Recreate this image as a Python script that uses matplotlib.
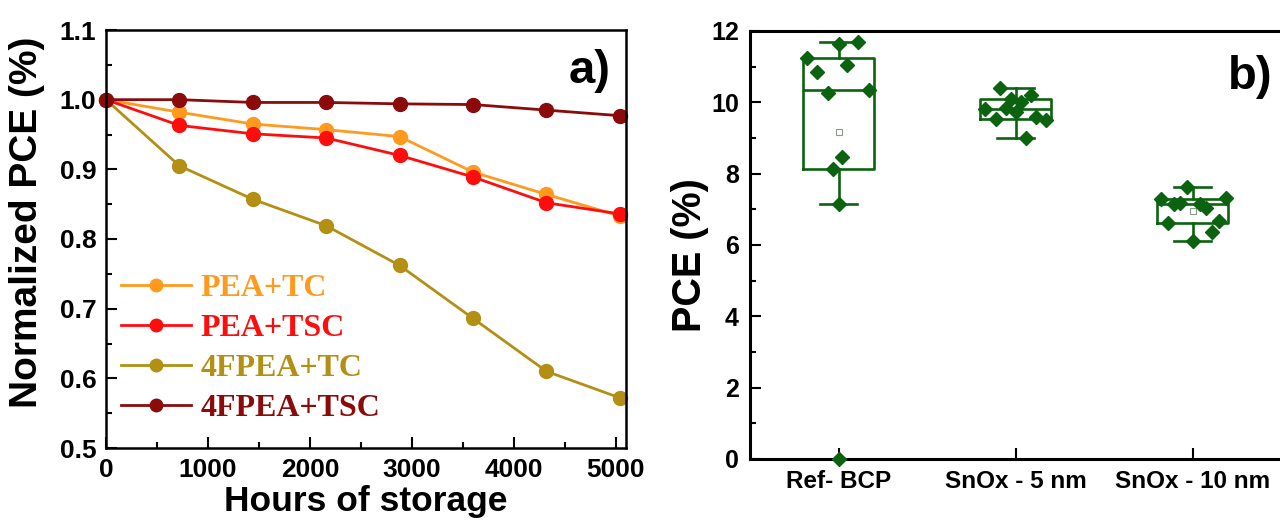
import numpy as np
import matplotlib
matplotlib.use("Agg")
import matplotlib.pyplot as plt
from matplotlib.ticker import MultipleLocator

plt.rcParams['font.family'] = ['Liberation Sans', 'DejaVu Sans']
plt.rcParams['font.weight'] = 'bold'

# ---- panel a) data ----
hours = [0, 720, 1440, 2160, 2880, 3600, 4320, 5040]
pea_tc = [1.0, 0.982, 0.965, 0.957, 0.947, 0.896, 0.864, 0.833]
pea_tsc = [1.0, 0.963, 0.951, 0.945, 0.920, 0.889, 0.852, 0.836]
fpea_tc = [1.0, 0.905, 0.857, 0.819, 0.762, 0.686, 0.610, 0.572]
fpea_tsc = [1.0, 1.0, 0.996, 0.996, 0.994, 0.993, 0.985, 0.977]
series_names = ['PEA+TC', 'PEA+TSC', '4FPEA+TC', '4FPEA+TSC']
series_colors = ['#ff9a1e', '#ff0d0d', '#b38f14', '#8b0b0b']

# ---- panel b) data ----
groups = ['Ref- BCP', 'SnOx - 5 nm', 'SnOx - 10 nm']
ref_bcp = [11.69, 11.63, 11.25, 10.84, 11.06, 10.34, 10.25, 8.47, 8.12, 7.14, 0.0]
ref_bcp_dx = [0.11, 0.0, -0.18, -0.12, 0.05, 0.17, -0.06, 0.02, -0.03, 0.0, 0.0]
snox5 = [10.39, 10.08, 10.02, 10.2, 9.80, 9.83, 9.74, 9.54, 9.58, 9.50, 9.01]
snox5_dx = [-0.085, -0.025, 0.03, 0.09, -0.17, -0.055, 0.0, -0.11, 0.115, 0.17, 0.06]
snox10 = [7.63, 7.28, 7.14, 7.17, 7.14, 7.03, 7.31, 6.63, 6.68, 6.37, 6.12]
snox10_dx = [-0.03, -0.18, -0.105, -0.07, 0.04, 0.075, 0.19, -0.14, 0.15, 0.11, 0.0]

green = '#0b620f'

fig = plt.figure(figsize=(12.8, 5.28), dpi=100)

# ----- a) -----
ax1 = fig.add_axes([106/1280, 1-448/528, 520/1280, 418/528])
for ys, name, c in zip([pea_tc, pea_tsc, fpea_tc, fpea_tsc], series_names, series_colors):
    ax1.plot(hours, ys, '-o', color=c, lw=2, ms=10, label=name, clip_on=False)
ax1.set_xlim(0, 5100)
ax1.set_ylim(0.5, 1.1)
ax1.xaxis.set_major_locator(MultipleLocator(1000))
ax1.xaxis.set_minor_locator(MultipleLocator(500))
ax1.yaxis.set_major_locator(MultipleLocator(0.1))
ax1.yaxis.set_minor_locator(MultipleLocator(0.05))
ax1.yaxis.set_major_formatter(plt.FormatStrFormatter('%.1f'))
ax1.tick_params(which='both', direction='in', width=1.5, labelsize=19, pad=7)
ax1.tick_params(which='major', length=8)
ax1.tick_params(which='minor', length=4)
for s in ax1.spines.values():
    s.set_linewidth(1.8)
ax1.set_xlabel('Hours of storage', fontsize=25.5, fontweight='bold', labelpad=2)
ax1.set_ylabel('Normalized PCE (%)', fontsize=28, fontweight='bold')
ax1.yaxis.set_label_coords(-0.117, 0.54)
ax1.text(0.97, 0.955, 'a)', transform=ax1.transAxes, ha='right', va='top',
         fontsize=34, fontweight='bold')
leg = ax1.legend(loc='lower left', bbox_to_anchor=(0.028, 0.06), frameon=False,
                 prop={'family': ['Liberation Serif', 'DejaVu Serif'], 'weight': 'bold', 'size': 23},
                 handlelength=2.2, handletextpad=0.3, labelspacing=0.33,
                 borderaxespad=0, borderpad=0, markerscale=0.9)
for t, c in zip(leg.get_texts(), series_colors):
    t.set_color(c)

# ----- b) -----
ax2 = fig.add_axes([750/1280, 1-459/528, 531/1280, 428/528])
datasets = [ref_bcp, snox5, snox10]
offsets = [ref_bcp_dx, snox5_dx, snox10_dx]
positions = np.arange(1, len(groups) + 1)
stats = []
for d in datasets:
    d = np.asarray(d)
    q1, med, q3 = np.percentile(d, [25, 50, 75], method='weibull')
    iqr = q3 - q1
    lo = d[d >= q1 - 1.5*iqr].min()
    hi = d[d <= q3 + 1.5*iqr].max()
    stats.append(dict(med=med, q1=q1, q3=q3, whislo=lo, whishi=hi,
                      mean=d.mean(), fliers=[]))
lp = dict(color=green, linewidth=1.9)
ax2.bxp(stats, positions=positions, widths=0.4, capwidths=0.21,
        showmeans=True, showfliers=False,
        boxprops=lp, whiskerprops=lp, capprops=lp, medianprops=lp,
        meanprops=dict(marker='s', markerfacecolor='white', markeredgecolor='#8a9a8a',
                       markersize=4, markeredgewidth=0.8))
for p, d, dx in zip(positions, datasets, offsets):
    ax2.plot(p + np.asarray(dx), d, 'D', color=green, ms=7.5, clip_on=False, zorder=3)

ax2.set_xlim(0.5, 3.5)
ax2.set_ylim(0, 12)
ax2.set_xticks(positions)
ax2.set_xticklabels(groups, fontsize=17.5)
ax2.yaxis.set_major_locator(MultipleLocator(2))
ax2.yaxis.set_minor_locator(MultipleLocator(1))
ax2.tick_params(which='both', direction='in', width=1.5, pad=8)
ax2.tick_params(axis='y', labelsize=18)
ax2.tick_params(which='major', length=8)
ax2.tick_params(which='minor', length=4)
ax2.tick_params(axis='x', which='minor', bottom=False)
ax2.spines['right'].set_visible(False)
for s in ['left', 'top', 'bottom']:
    ax2.spines[s].set_linewidth(2.2)
ax2.set_ylabel('PCE (%)', fontsize=28.5, fontweight='bold')
ax2.yaxis.set_label_coords(-0.077, 0.477)
ax2.text(0.985, 0.945, 'b)', transform=ax2.transAxes, ha='right', va='top',
         fontsize=34, fontweight='bold')

fig.savefig('out.png', dpi=100)
